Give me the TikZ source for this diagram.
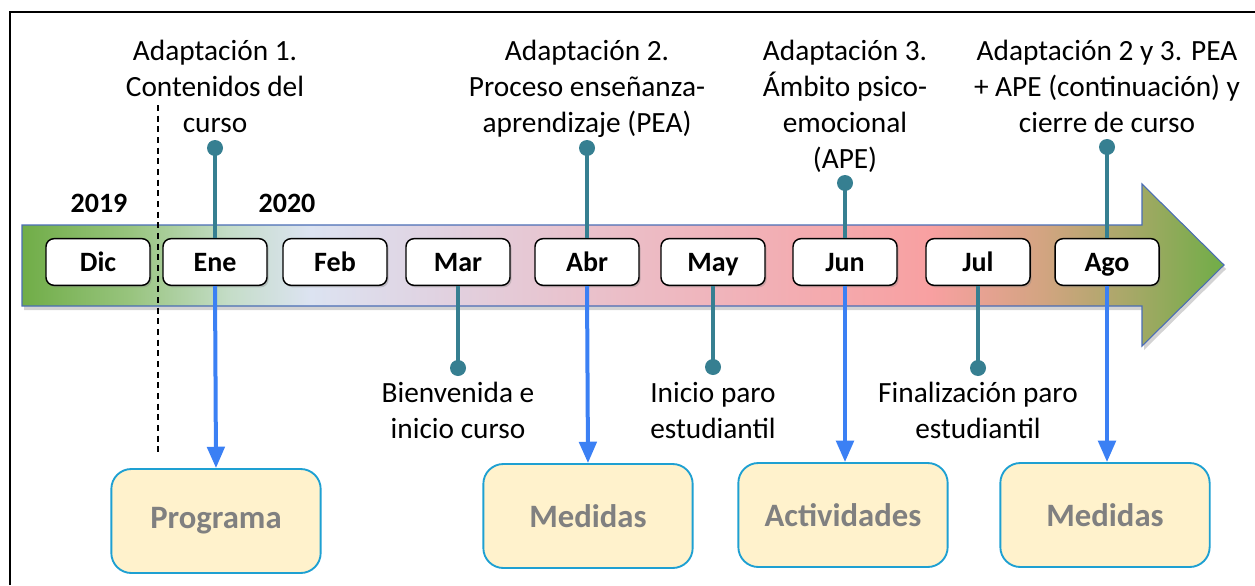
\documentclass[tikz,border=0pt]{standalone}
\usepackage{fontspec}
\setmainfont{Carlito}
\usepackage{xcolor}
\usepackage{tikz}
\usetikzlibrary{arrows.meta,shadows}

\definecolor{bandgreen}{HTML}{70AD47}
\definecolor{bandborder}{HTML}{4A6DB5}
\definecolor{stemteal}{HTML}{367F91}
\definecolor{arrowblue}{HTML}{3B80F4}
\definecolor{boxfill}{HTML}{FFF2CC}
\definecolor{boxline}{HTML}{1EA0D2}
\definecolor{boxtext}{HTML}{808080}

\pgfdeclarehorizontalshading{bandshade}{100bp}{%
  color(0bp)=(bandgreen); color(25bp)=(bandgreen);
  color(29.5bp)=({rgb,255:red,152;green,196;blue,126});
  color(33.7bp)=({rgb,255:red,197;green,221;blue,201});
  color(37bp)=({rgb,255:red,220;green,227;blue,241});
  color(42bp)=({rgb,255:red,224;green,211;blue,226});
  color(47.4bp)=({rgb,255:red,232;green,196;blue,207});
  color(54bp)=({rgb,255:red,240;green,180;blue,187});
  color(62.8bp)=({rgb,255:red,248;green,160;blue,161});
  color(67.3bp)=({rgb,255:red,212;green,164;blue,130});
  color(71bp)=({rgb,255:red,168;green,168;blue,104});
  color(75bp)=(bandgreen); color(100bp)=(bandgreen)}

\tikzset{
  month/.style={draw=black, line width=1.1pt, fill=white, rounded corners=6pt,
    minimum width=78pt, minimum height=35pt, inner sep=0pt,
    text height=13.5pt, text depth=0pt,
    font=\fontsize{21}{25}\selectfont\bfseries,
    drop shadow={opacity=0.35, shadow xshift=1.2pt, shadow yshift=-1.5pt}},
  outcome/.style={draw=boxline, line width=1.4pt, fill=boxfill, rounded corners=15pt,
    minimum width=157pt, minimum height=78pt, inner sep=0pt,
    text=boxtext, font=\fontsize{24.5}{29}\selectfont\bfseries},
  label/.style={align=center, inner sep=0pt, font=\fontsize{22}{27}\selectfont},
  year/.style={inner sep=0pt, font=\fontsize{21}{25}\selectfont\bfseries},
  tealdot/.style={circle, fill=stemteal, minimum size=12pt, inner sep=0pt},
  stem/.style={stemteal, line width=3pt},
  downarrow/.style={arrowblue, line width=3pt, -{Triangle[length=16pt,width=13pt]}}
}

\begin{document}
\begin{tikzpicture}[x=0.75pt,y=0.75pt,yscale=-1,xscale=1]
\useasboundingbox (0,0) rectangle (1255,585);

%Frame
\draw [line width=1.5pt] (10,585) -- (10,12) -- (1255,12) ;

%Shape: Right Arrow
\path [shading=bandshade, draw=bandborder, line width=0.8pt,
  drop shadow={opacity=0.35, shadow xshift=1.5pt, shadow yshift=-3pt}]
  (22,225) -- (1142,225) -- (1142,184) -- (1224,265) -- (1142,346) -- (1142,306) -- (22,306) -- cycle ;

%Straight Lines: year divider
\draw [line width=1.3pt, dash pattern={on 4.5pt off 3.5pt}] (158,105) -- (158,455) ;

% Text Node: years
\node [year, anchor=base] (y2019) at (99,212) {2019};
\node [year, anchor=base] (y2020) at (287,212) {2020};

% Month boxes
\node [month] (dic) at (98,262) {Dic};
\node [month] (ene) at (215,262) {Ene};
\node [month] (feb) at (335,262) {Feb};
\node [month] (mar) at (458,262) {Mar};
\node [month] (abr) at (587,262) {Abr};
\node [month] (may) at (713,262) {May};
\node [month] (jun) at (845,262) {Jun};
\node [month] (jul) at (978,262) {Jul};
\node [month] (ago) at (1107,262) {Ago};

% Dots
\node [tealdot] (dEne) at (215,148) {};
\node [tealdot] (dAbr) at (587,148) {};
\node [tealdot] (dJun) at (845,183) {};
\node [tealdot] (dAgo) at (1107,147) {};
\node [tealdot] (dMar) at (458,368) {};
\node [tealdot] (dMay) at (713,367) {};
\node [tealdot] (dJul) at (978,368) {};

%Straight Lines: stems
\draw [stem] (ene.north) -- (dEne.center) ;
\draw [stem] (abr.north) -- (dAbr.center) ;
\draw [stem] (jun.north) -- (dJun.center) ;
\draw [stem] (ago.north) -- (dAgo.center) ;
\draw [stem] (mar.south) -- (dMar.center) ;
\draw [stem] (may.south) -- (dMay.center) ;
\draw [stem] (jul.south) -- (dJul.center) ;

% Text Node: adaptations
\node [label, anchor=north] (t1) at (215,40) {Adaptación 1.\\Contenidos del\\curso};
\node [label, anchor=north] (t2) at (587,40) {Adaptación 2.\\Proceso enseñanza-\\aprendizaje (PEA)};
\node [label, anchor=north] (t3) at (845,40) {Adaptación 3.\\Ámbito psico-\\emocional\\(APE)};
\node [label, anchor=north] (t4) at (1107,40) {Adaptación 2 y 3. PEA\\+ APE (continuación) y\\cierre de curso};

% Text Node: events
\node [label, anchor=north] (e1) at (458,382) {Bienvenida e\\inicio curso};
\node [label, anchor=north] (e2) at (713,382) {Inicio paro\\estudiantil};
\node [label, anchor=north] (e3) at (978,382) {Finalización paro\\estudiantil};

% Outcome boxes
\node [outcome] (programa) at (216,521) {Programa};
\node [outcome] (medidasA) at (588,516) {Medidas};
\node [outcome] (actividades) at (843,515) {Actividades};
\node [outcome] (medidasB) at (1105,515) {Medidas};

%Straight Lines: arrows
\draw [downarrow] (ene.south) -- (programa.north) ;
\draw [downarrow] (abr.south) -- (medidasA.north) ;
\draw [downarrow] (jun.south) -- (actividades.north-|jun.south) ;
\draw [downarrow] (ago.south) -- (medidasB.north-|ago.south) ;

\end{tikzpicture}
\end{document}
